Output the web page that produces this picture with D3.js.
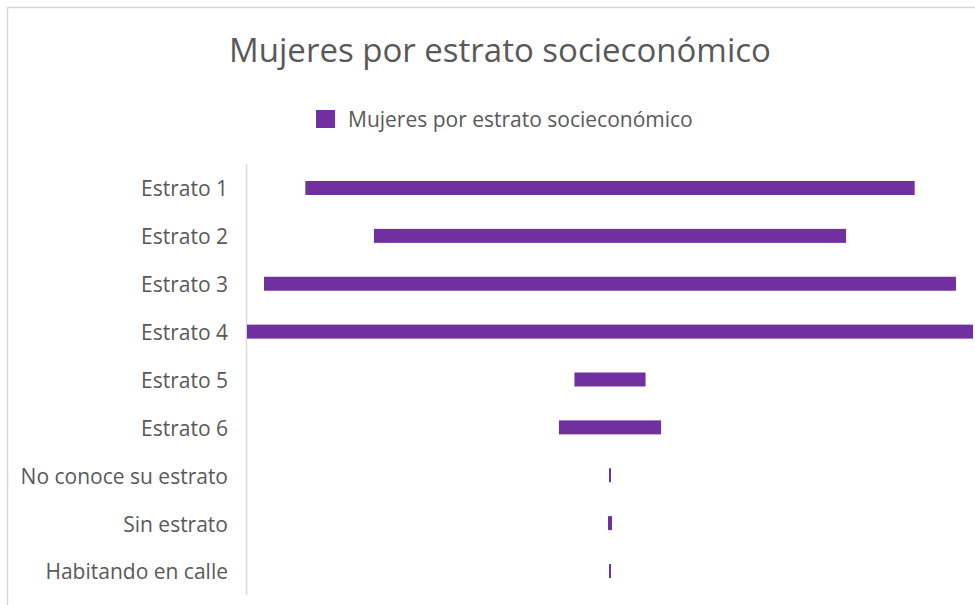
<!DOCTYPE html>
<html>
<head>
<meta charset="utf-8">
<script src="https://cdn.jsdelivr.net/npm/d3@7"></script>
<style>
  body { margin: 0; background: #fff; }
  text { font-family: "Open Sans", sans-serif; fill: #595959; }
</style>
</head>
<body>
<svg width="975" height="605"></svg>
<script>
// datos (estimados)
const categories = ["Estrato 1", "Estrato 2", "Estrato 3", "Estrato 4", "Estrato 5",
  "Estrato 6", "No conoce su estrato", "Sin estrato", "Habitando en calle"];
const values = [1217, 943, 1382, 1450, 142, 204, 4, 8, 4];
const title = "Mujeres por estrato socieconómico";
const seriesName = "Mujeres por estrato socieconómico";

const data = categories.map((c, i) => ({ cat: c, value: values[i] }));

const svg = d3.select("svg");
const width = +svg.attr("width");
const height = +svg.attr("height");
const purple = "#7030a0";

// marco del grafico
svg.append("path")
  .attr("d", `M7.5,${height} V7.5 H${width}`)
  .attr("fill", "none")
  .attr("stroke", "#d9d9d9")
  .attr("stroke-width", 1.5);

svg.append("text")
  .attr("x", 500)
  .attr("y", 62)
  .attr("text-anchor", "middle")
  .style("font-size", "33px")
  .text(title);

// leyenda
const legend = svg.append("g").attr("transform", "translate(316,110)");
legend.append("rect")
  .attr("width", 19).attr("height", 18)
  .attr("fill", purple);
legend.append("text")
  .attr("x", 32).attr("y", 17)
  .style("font-size", "21px")
  .text(seriesName);

const plotLeft = 247, plotRight = 973;
const cx = (plotLeft + plotRight) / 2;

const x = d3.scaleLinear()
  .domain([0, d3.max(values)])
  .range([0, plotRight - plotLeft]);

const y = d3.scaleBand()
  .domain(categories)
  .range([164, 595])
  .paddingInner(0.708)
  .paddingOuter(0.355);

// eje vertical
svg.append("line")
  .attr("x1", 246.5).attr("x2", 246.5)
  .attr("y1", 164).attr("y2", 595)
  .attr("stroke", "#d9d9d9")
  .attr("stroke-width", 1.5);

const g = svg.append("g");

g.selectAll("rect")
  .data(data)
  .enter()
  .append("rect")
    .attr("x", (d) => cx - Math.max(x(d.value), 2) / 2)
    .attr("y", (d) => y(d.cat))
    .attr("width", (d) => Math.max(x(d.value), 2))
    .attr("height", y.bandwidth())
    .attr("fill", purple);

g.selectAll(".lbl")
  .data(data)
  .enter()
  .append("text")
    .attr("class", "lbl")
    .attr("x", 228)
    .attr("y", (d) => y(d.cat) + y.bandwidth() / 2)
    .attr("dy", "0.4em")
    .attr("text-anchor", "end")
    .style("font-size", "21px")
    .text((d) => d.cat);
</script>
</body>
</html>
